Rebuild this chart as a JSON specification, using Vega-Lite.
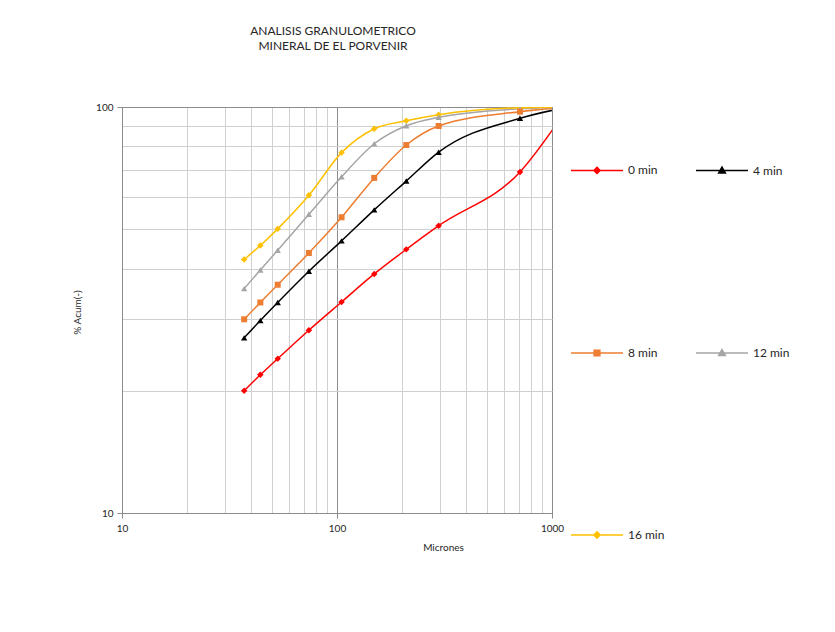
{
  "$schema": "https://vega.github.io/schema/vega-lite/v6.json",
  "width": 430,
  "height": 406,
  "autosize": "none",
  "padding": {"left": 122, "top": 107, "right": 283, "bottom": 119},
  "background": "white",
  "config": {
    "font": "Lato",
    "view": {"stroke": "#8c8c8c", "strokeWidth": 1}
  },
  "title": {
    "text": ["ANALISIS GRANULOMETRICO", "MINERAL DE EL PORVENIR"],
    "fontSize": 12,
    "fontWeight": "normal",
    "color": "#262626",
    "lineHeight": 15,
    "anchor": "middle",
    "offset": 49,
    "dx": -4
  },
  "data": {
    "values": [
      {"size": 37, "series": "0 min", "pct": 20.0},
      {"size": 44, "series": "0 min", "pct": 21.9},
      {"size": 53, "series": "0 min", "pct": 24.0},
      {"size": 74, "series": "0 min", "pct": 28.2},
      {"size": 105, "series": "0 min", "pct": 33.1},
      {"size": 149, "series": "0 min", "pct": 38.8},
      {"size": 210, "series": "0 min", "pct": 44.6},
      {"size": 297, "series": "0 min", "pct": 51.0},
      {"size": 710, "series": "0 min", "pct": 69.2},
      {"size": 1190, "series": "0 min", "pct": 100},
      {"size": 37, "series": "4 min", "pct": 27.0},
      {"size": 44, "series": "4 min", "pct": 29.8},
      {"size": 53, "series": "4 min", "pct": 33.0},
      {"size": 74, "series": "4 min", "pct": 39.4},
      {"size": 105, "series": "4 min", "pct": 46.8},
      {"size": 149, "series": "4 min", "pct": 55.8},
      {"size": 210, "series": "4 min", "pct": 65.7},
      {"size": 297, "series": "4 min", "pct": 77.4},
      {"size": 710, "series": "4 min", "pct": 93.8},
      {"size": 1190, "series": "4 min", "pct": 100},
      {"size": 37, "series": "8 min", "pct": 30.0},
      {"size": 44, "series": "8 min", "pct": 33.0},
      {"size": 53, "series": "8 min", "pct": 36.5},
      {"size": 74, "series": "8 min", "pct": 43.7},
      {"size": 105, "series": "8 min", "pct": 53.5},
      {"size": 149, "series": "8 min", "pct": 66.9},
      {"size": 210, "series": "8 min", "pct": 80.6},
      {"size": 297, "series": "8 min", "pct": 89.8},
      {"size": 710, "series": "8 min", "pct": 97.4},
      {"size": 1190, "series": "8 min", "pct": 100},
      {"size": 37, "series": "12 min", "pct": 35.7},
      {"size": 44, "series": "12 min", "pct": 39.7},
      {"size": 53, "series": "12 min", "pct": 44.4},
      {"size": 74, "series": "12 min", "pct": 54.4},
      {"size": 105, "series": "12 min", "pct": 67.3},
      {"size": 149, "series": "12 min", "pct": 81.2},
      {"size": 210, "series": "12 min", "pct": 89.9},
      {"size": 297, "series": "12 min", "pct": 94.3},
      {"size": 710, "series": "12 min", "pct": 99.0},
      {"size": 1190, "series": "12 min", "pct": 100},
      {"size": 37, "series": "16 min", "pct": 42.1},
      {"size": 44, "series": "16 min", "pct": 45.6},
      {"size": 53, "series": "16 min", "pct": 50.1},
      {"size": 74, "series": "16 min", "pct": 60.6},
      {"size": 105, "series": "16 min", "pct": 77.2},
      {"size": 149, "series": "16 min", "pct": 88.4},
      {"size": 210, "series": "16 min", "pct": 92.5},
      {"size": 297, "series": "16 min", "pct": 95.7},
      {"size": 710, "series": "16 min", "pct": 99.6},
      {"size": 1190, "series": "16 min", "pct": 100}
    ]
  },
  "encoding": {
    "x": {
      "field": "size",
      "type": "quantitative",
      "scale": {"type": "log", "domain": [10, 1000], "nice": false},
      "axis": {
        "title": "Micrones",
        "titleFontSize": 10,
        "titleFontWeight": "normal",
        "titleColor": "#262626",
        "titleX": 321,
        "titleY": 29,
        "values": [10, 20, 30, 40, 50, 60, 70, 80, 90, 100, 200, 300, 400, 500, 600, 700, 800, 900, 1000],
        "labelExpr": "datum.value == 10 || datum.value == 100 || datum.value == 1000 ? format(datum.value, 'd') : ''",
        "labelFontSize": 10,
        "labelColor": "#262626",
        "labelPadding": 5,
        "labelFlush": false,
        "labelOverlap": false,
        "tickSize": 5,
        "tickColor": "#8c8c8c",
        "tickOpacity": {"condition": {"test": "datum.value == 10 || datum.value == 100 || datum.value == 1000", "value": 1}, "value": 0},
        "domainColor": "#8c8c8c",
        "grid": true,
        "gridColor": {"condition": {"test": "datum.value == 10 || datum.value == 100 || datum.value == 1000", "value": "#8c8c8c"}, "value": "#d0d0d0"},
        "gridWidth": 1
      }
    },
    "y": {
      "field": "pct",
      "type": "quantitative",
      "scale": {"type": "log", "domain": [10, 100], "nice": false},
      "axis": {
        "title": "% Acum(-)",
        "titleFontSize": 10,
        "titleFontWeight": "normal",
        "titleColor": "#262626",
        "titleX": -40,
        "titleY": 205,
        "values": [10, 20, 30, 40, 50, 60, 70, 80, 90, 100],
        "labelExpr": "datum.value == 10 || datum.value == 100 ? format(datum.value, 'd') : ''",
        "labelFontSize": 10,
        "labelColor": "#262626",
        "labelPadding": 4,
        "labelFlush": false,
        "labelOverlap": false,
        "tickSize": 5,
        "tickColor": "#8c8c8c",
        "tickOpacity": {"condition": {"test": "datum.value == 10 || datum.value == 100", "value": 1}, "value": 0},
        "domainColor": "#8c8c8c",
        "grid": true,
        "gridColor": {"condition": {"test": "datum.value == 10 || datum.value == 100", "value": "#8c8c8c"}, "value": "#d0d0d0"},
        "gridWidth": 1
      }
    },
    "color": {
      "field": "series",
      "type": "nominal",
      "scale": {
        "domain": ["0 min", "4 min", "8 min", "12 min", "16 min"],
        "range": ["#FF0000", "#000000", "#ED7D31", "#A5A5A5", "#FFC000"]
      },
      "legend": {
        "title": null,
        "orient": "none",
        "legendX": 448,
        "legendY": 36,
        "direction": "horizontal",
        "columns": 2,
        "columnPadding": 28,
        "rowPadding": 149,
        "symbolType": "M-1,0H1",
        "symbolSize": 2704,
        "symbolStrokeWidth": 1.5,
        "labelFontSize": 12,
        "labelColor": "#262626",
        "labelOffset": 4,
        "encode": {
          "symbols": {
            "update": {
              "shape": {"signal": "datum.value == '0 min' || datum.value == '16 min' ? 'M-1,0H1M0,-0.12L0.12,0L0,0.12L-0.12,0Z' : datum.value == '8 min' ? 'M-1,0H1M-0.11,-0.11H0.11V0.11H-0.11Z' : 'M-1,0H1M0,-0.13L0.13,0.1L-0.13,0.1Z'"},
              "fill": {"scale": "color", "field": "value"},
              "stroke": {"scale": "color", "field": "value"},
              "opacity": {"value": 1},
              "fillOpacity": {"value": 1}
            }
          }
        }
      }
    }
  },
  "layer": [
    {
      "mark": {"type": "line", "interpolate": "monotone", "strokeWidth": 1.5, "clip": true}
    },
    {
      "transform": [{"filter": "datum.series == '0 min' || datum.series == '16 min'"}],
      "mark": {"type": "point", "shape": "diamond", "filled": true, "opacity": 1, "clip": true, "size": 42}
    },
    {
      "transform": [{"filter": "datum.series == '4 min' || datum.series == '12 min'"}],
      "mark": {"type": "point", "shape": "triangle-up", "filled": true, "opacity": 1, "clip": true, "size": 40}
    },
    {
      "transform": [{"filter": "datum.series == '8 min'"}],
      "mark": {"type": "point", "shape": "square", "filled": true, "opacity": 1, "clip": true, "size": 36}
    }
  ]
}
